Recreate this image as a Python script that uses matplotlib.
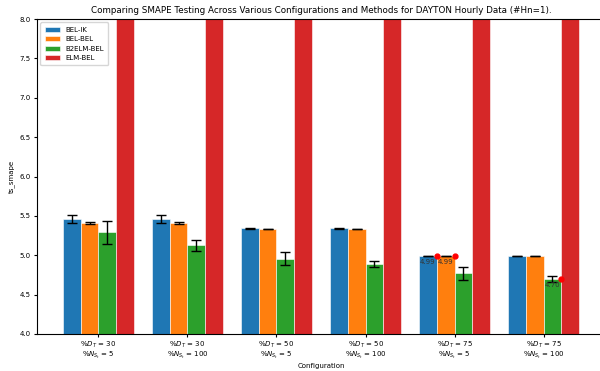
import numpy as np
import matplotlib.pyplot as plt

configs = ['%$D_T$ = 30\n%$N_{S_t}$ = 5', '%$D_T$ = 30\n%$N_{S_t}$ = 100',
           '%$D_T$ = 50\n%$N_{S_t}$ = 5', '%$D_T$ = 50\n%$N_{S_t}$ = 100',
           '%$D_T$ = 75\n%$N_{S_t}$ = 5', '%$D_T$ = 75\n%$N_{S_t}$ = 100']
methods = ['BEL-IK', 'BEL-BEL', 'B2ELM-BEL', 'ELM-BEL']
colors = ['#1f77b4', '#ff7f0e', '#2ca02c', '#d62728']

bel_ik = [5.455, 5.455, 5.34, 5.34, 4.99, 4.99]
bel_ik_err = [0.05, 0.05, 0.006, 0.006, 0.004, 0.004]
bel_bel = [5.41, 5.41, 5.335, 5.335, 4.99, 4.99]
bel_bel_err = [0.015, 0.015, 0.004, 0.004, 0.003, 0.003]
b2elm_bel = [5.29, 5.13, 4.955, 4.89, 4.77, 4.70]
b2elm_bel_err = [0.15, 0.07, 0.08, 0.04, 0.08, 0.04]
elm_bel = [12.4, 12.1, 11.8, 11.6, 11.2, 11.0]
elm_bel_err = [0.0, 0.0, 0.0, 0.0, 0.0, 0.0]

# best results per configuration, marked with a red dot
best = [(4, 0), (4, 1), (5, 2)]

values = [bel_ik, bel_bel, b2elm_bel, elm_bel]
errors = [bel_ik_err, bel_bel_err, b2elm_bel_err, elm_bel_err]

fig = plt.figure(figsize=(6, 3.71), dpi=100)
ax = fig.add_axes([37 / 600, 1 - 334 / 371, 568 / 600, 315 / 371])

x = np.arange(len(configs))
w = 0.2
for i in range(4):
    ax.bar(x + (i - 1.5) * w, values[i], w, yerr=errors[i], color=colors[i],
           label=methods[i], capsize=3.5, edgecolor='white', linewidth=0.4,
           error_kw={'elinewidth': 1, 'ecolor': 'black', 'capthick': 1})

for g, m in best:
    v = values[m][g]
    xc = g + (m - 1.5) * w
    ax.plot(xc + w / 2, v, 'o', color='red', markersize=3.5, zorder=5)
    ax.text(xc, v - 0.035, '%.2f' % v, ha='center', va='top', fontsize=5,
            color='#333333')

ax.set_ylim(4.0, 8.0)
ax.set_xticks(x)
ax.set_xticklabels(configs, fontsize=5, linespacing=1.0)
ax.tick_params(axis='both', labelsize=5, length=2.5, pad=2)
ax.set_xlabel('Configuration', fontsize=5, labelpad=1)
ax.set_ylabel('ts_smape', fontsize=5, labelpad=3)
ax.set_title('Comparing SMAPE Testing Across Various Configurations and Methods for DAYTON Hourly Data (#Hn=1).',
             fontsize=6.3, pad=4)
ax.legend(loc='upper left', fontsize=5, handlelength=2.2, borderpad=0.6,
          labelspacing=0.5)

fig.savefig('out.png', dpi=100)
